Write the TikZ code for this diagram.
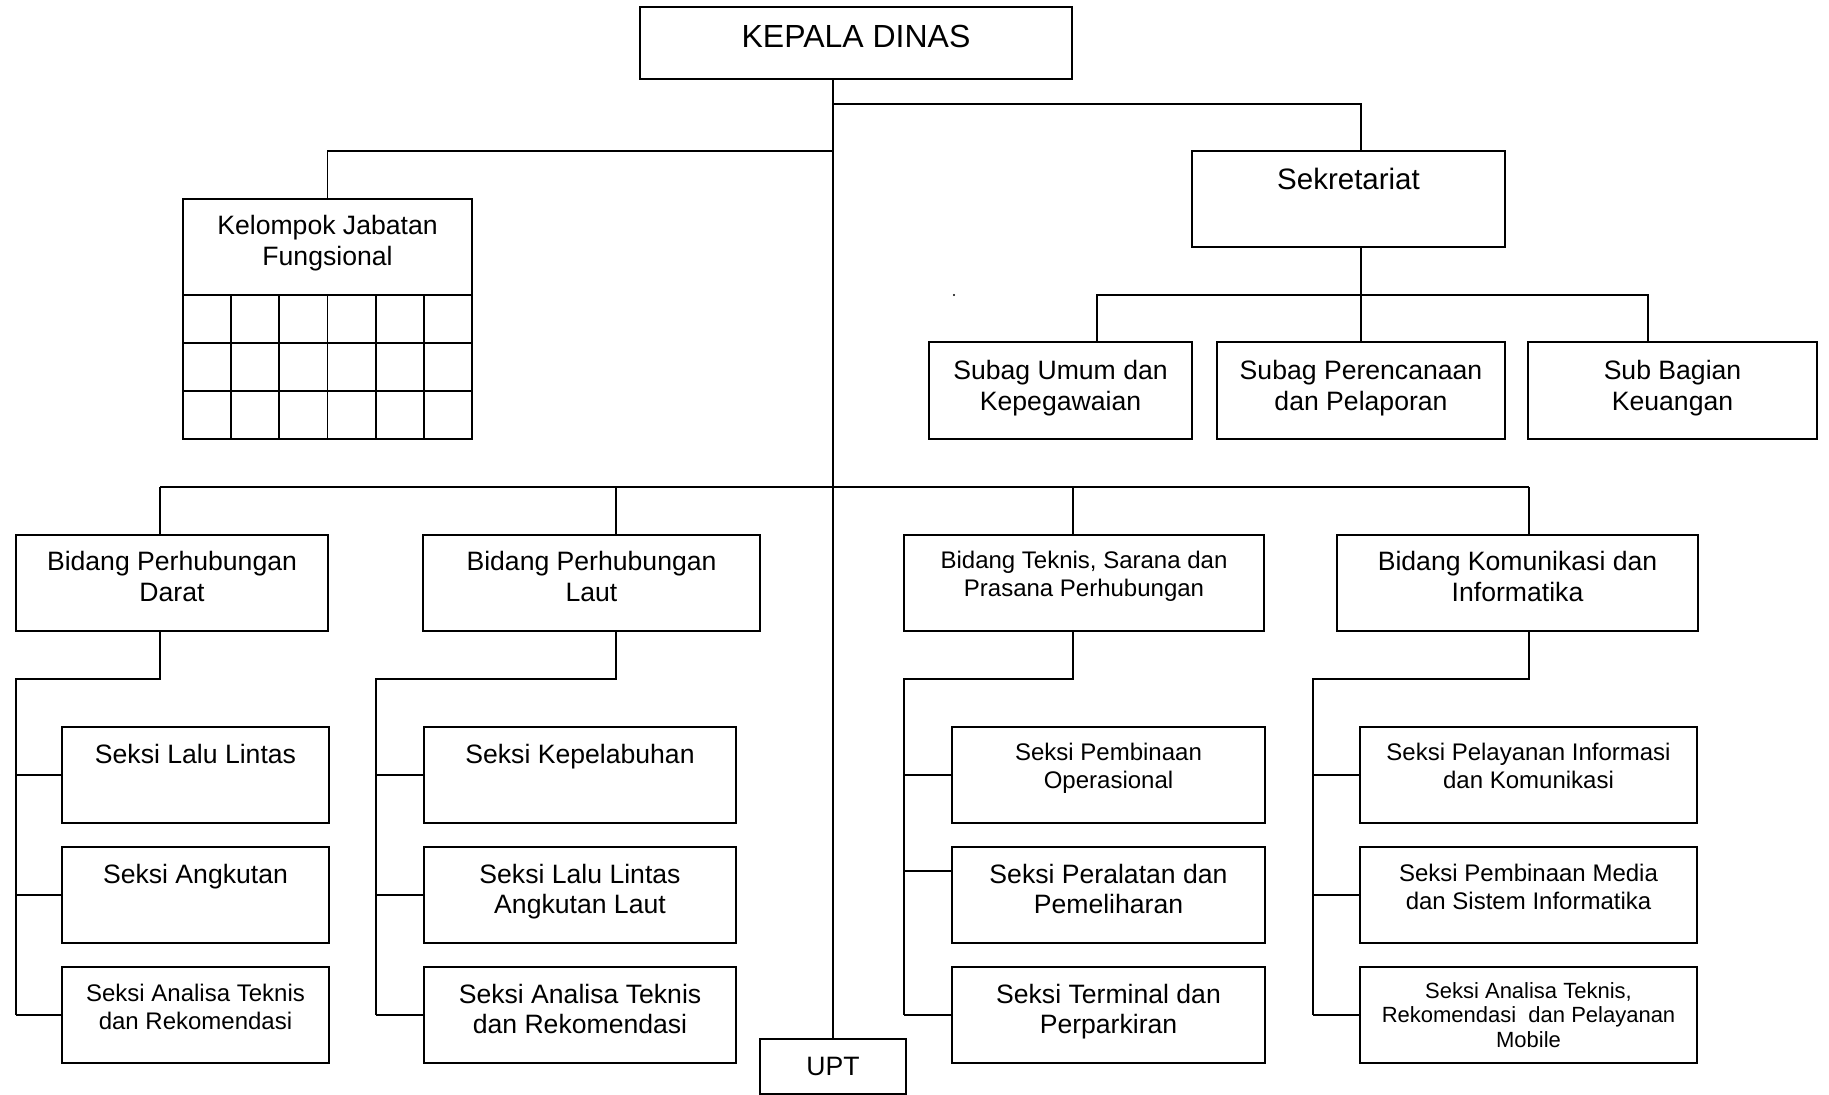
\documentclass[tikz,border=0pt]{standalone}
\usepackage{fontspec}
\setmainfont{Liberation Sans}
\usetikzlibrary{fit}
% one unit = one pixel of the 1829 x 1095 sheet, y pointing down
\newcommand\obox[5]{\node[orgbox, fit={(#2,#3) (#4,#5)}] (#1) {};}
\newcommand\otxt[5]{\node[lbl,#1] (#2) at (#3,#4) {\rule{0pt}{1em}#5};}
\begin{document}
\begin{tikzpicture}[x=0.5pt,y=-0.5pt,
  orgbox/.style={draw, line width=1.1pt, inner sep=0pt},
  link/.style={line width=0.85pt},
  lbl/.style={anchor=north, inner sep=0pt, align=center},
  fK/.style={font=\fontsize{16pt}{18pt}\selectfont},
  fS/.style={font=\fontsize{14.75pt}{16.5pt}\selectfont},
  fL/.style={font=\fontsize{13.3pt}{15.4pt}\selectfont},
  fM/.style={font=\fontsize{12pt}{14pt}\selectfont},
  fT/.style={font=\fontsize{11pt}{12.2pt}\selectfont}]

\path[fill=white, use as bounding box] (0,0) rectangle (1829,1095);

% ---- boxes ----
\obox{kd}{640}{7}{1072}{79}
\obox{kel}{183}{199}{472}{439}
\obox{sek}{1192}{151}{1505}{247}
\obox{sub1}{929}{342}{1192}{439}
\obox{sub2}{1217}{342}{1505}{439}
\obox{sub3}{1528}{342}{1817}{439}
\obox{bd}{16}{535}{328}{631}
\obox{bl}{423}{535}{760}{631}
\obox{bt}{904}{535}{1264}{631}
\obox{bk}{1337}{535}{1698}{631}
\obox{d1}{62}{727}{329}{823}
\obox{d2}{62}{847}{329}{943}
\obox{d3}{62}{967}{329}{1063}
\obox{l1}{424}{727}{736}{823}
\obox{l2}{424}{847}{736}{943}
\obox{l3}{424}{967}{736}{1063}
\obox{t1}{952}{727}{1265}{823}
\obox{t2}{952}{847}{1265}{943}
\obox{t3}{952}{967}{1265}{1063}
\obox{k1}{1360}{727}{1697}{823}
\obox{k2}{1360}{847}{1697}{943}
\obox{k3}{1360}{967}{1697}{1063}
\obox{upt}{760}{1039}{906}{1094}

% grid of the functional group
\begin{scope}[line width=1.1pt]
  \draw (183,295) -- (472,295);
  \draw[line width=0.85pt] (183,343) -- (472,343) (183,391) -- (472,391);
  \foreach \gx in {231.2,279.3,327.5,375.7,423.8}
    \draw[line width=0.85pt] (\gx,295) -- (\gx,439);
\end{scope}

% ---- texts ----
\otxt{fK}{tkd}{856}{15}{KEPALA DINAS}
\otxt{fL}{tkel}{327.5}{207.4}{Kelompok Jabatan\\Fungsional}
\otxt{fS}{tsek}{1348.5}{159.5}{Sekretariat}
\otxt{fL}{tsub1}{1060.5}{352.4}{Subag Umum dan\\Kepegawaian}
\otxt{fL}{tsub2}{1361}{352.4}{Subag Perencanaan\\dan Pelaporan}
\otxt{fL}{tsub3}{1672.5}{352.4}{Sub Bagian\\Keuangan}
\otxt{fL}{tbd}{172}{543.7}{Bidang Perhubungan\\Darat}
\otxt{fL}{tbl}{591.5}{543.7}{Bidang Perhubungan\\Laut}
\otxt{fM}{tbt}{1084}{544.5}{Bidang Teknis, Sarana dan\\Prasana Perhubungan}
\otxt{fL}{tbk}{1517.5}{543.7}{Bidang Komunikasi dan\\Informatika}
\otxt{fL}{td1}{195.5}{736.4}{Seksi Lalu Lintas}
\otxt{fL}{td2}{195.5}{856}{Seksi Angkutan}
\otxt{fM}{td3}{195.5}{977}{Seksi Analisa Teknis\\dan Rekomendasi}
\otxt{fL}{tl1}{580}{736.4}{Seksi Kepelabuhan}
\otxt{fL}{tl2}{580}{856}{Seksi Lalu Lintas\\Angkutan Laut}
\otxt{fL}{tl3}{580}{976}{Seksi Analisa Teknis\\dan Rekomendasi}
\otxt{fM}{tt1}{1108.5}{736}{Seksi Pembinaan\\Operasional}
\otxt{fL}{tt2}{1108.5}{856}{Seksi Peralatan dan\\Pemeliharan}
\otxt{fL}{tt3}{1108.5}{976}{Seksi Terminal dan\\Perparkiran}
\otxt{fM}{tk1}{1528.5}{736}{Seksi Pelayanan Informasi\\dan Komunikasi}
\otxt{fM}{tk2}{1528.5}{857}{Seksi Pembinaan Media\\dan Sistem Informatika}
\otxt{fT}{tk3}{1528.5}{976}{Seksi Analisa Teknis,\\Rekomendasi\ \ dan Pelayanan\\Mobile}
\otxt{fL}{tupt}{833}{1048}{UPT}

% ---- connectors ----
\coordinate (j-top)  at (833,104);
\coordinate (j-left) at (833,151);
\coordinate (j-bus)  at (833,487);
\coordinate (j-sub)  at (1361,295);
\coordinate (d-sub1) at (1097,342);
\coordinate (d-sub3) at (1648,342);

\draw[link] (kd.south -| upt.north) -- (upt.north);
\draw[link] (j-top) -| (sub2.north |- sek.north);
\draw[link] (j-left) -| (kel.north);
\draw[link] (sub2.north |- sek.south) -- (sub2.north);
\draw[link] (d-sub1) -- (d-sub1 |- j-sub) -- (d-sub3 |- j-sub) -- (d-sub3);
\fill (954,295) circle [radius=0.6pt];

% bus to the four divisions
\coordinate (p-bd) at (160,535);
\coordinate (p-bl) at (616,535);
\coordinate (p-bt) at (1073,535);
\coordinate (p-bk) at (1529,535);
\draw[link] (p-bd |- j-bus) -- (p-bk |- j-bus);
\foreach \p in {p-bd,p-bl,p-bt,p-bk}
  \draw[link] (\p |- j-bus) -- (\p);

% division to section connectors
\coordinate (o-bd) at (160,631);  \coordinate (s-bd) at (16,679);
\coordinate (o-bl) at (616,631);  \coordinate (s-bl) at (376,679);
\coordinate (o-bt) at (1073,631); \coordinate (s-bt) at (904,679);
\coordinate (o-bk) at (1529,631); \coordinate (s-bk) at (1313,679);

\draw[link] (o-bd) |- (s-bd) -- (s-bd |- d3.west);
\foreach \s in {d1,d2,d3} \draw[link] (s-bd |- \s.west) -- (\s.west);
\draw[link] (o-bl) |- (s-bl) -- (s-bl |- l3.west);
\foreach \s in {l1,l2,l3} \draw[link] (s-bl |- \s.west) -- (\s.west);
\draw[link] (o-bt) |- (s-bt) -- (s-bt |- t3.west);
\coordinate (t2-in) at (952,871);
\draw[link] (s-bt |- t1.west) -- (t1.west);
\draw[link] (s-bt |- t2-in) -- (t2-in);
\draw[link] (s-bt |- t3.west) -- (t3.west);
\draw[link] (o-bk) |- (s-bk) -- (s-bk |- k3.west);
\foreach \s in {k1,k2,k3} \draw[link] (s-bk |- \s.west) -- (\s.west);
\end{tikzpicture}
\end{document}
